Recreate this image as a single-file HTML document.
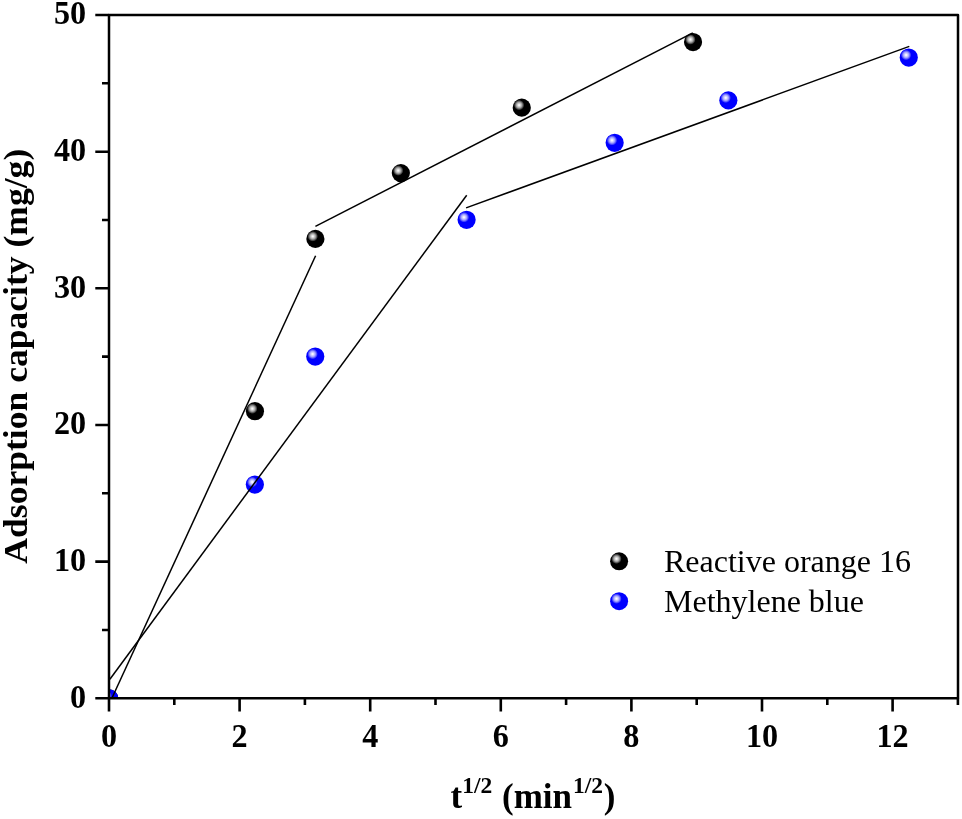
<!DOCTYPE html>
<html><head><meta charset="utf-8">
<style>
html,body{margin:0;padding:0;background:#fff;}
body{width:962px;height:819px;overflow:hidden;}
svg{display:block;will-change:transform;}
text{font-family:"Liberation Serif",serif;}
.b{font-weight:bold;}
</style></head><body>
<svg width="962" height="819" viewBox="0 0 962 819">
<defs>
<radialGradient id="gk" cx="0.355" cy="0.36" r="0.285" fx="0.355" fy="0.36">
<stop offset="0" stop-color="#ffffff"/>
<stop offset="0.12" stop-color="#f4f4f4"/>
<stop offset="0.55" stop-color="#a0a0a0"/>
<stop offset="0.85" stop-color="#3c3c3c"/>
<stop offset="1" stop-color="#000"/>
</radialGradient>
<radialGradient id="gb" cx="0.355" cy="0.36" r="0.285" fx="0.355" fy="0.36">
<stop offset="0" stop-color="#ffffff"/>
<stop offset="0.12" stop-color="#f4f4ff"/>
<stop offset="0.55" stop-color="#a0a0ff"/>
<stop offset="0.85" stop-color="#3c3cff"/>
<stop offset="1" stop-color="#0000ff"/>
</radialGradient>
<clipPath id="plot"><rect x="109" y="15" width="849" height="683.3"/></clipPath>
</defs>

<!-- data markers (clipped to plot) -->
<g clip-path="url(#plot)">
<circle cx="109.3" cy="698.3" r="9" fill="url(#gk)"/>
<circle cx="109.3" cy="698.3" r="9" fill="url(#gb)"/>
</g>
<g>
<circle cx="254.95" cy="411.2" r="9.1" fill="url(#gk)"/>
<circle cx="315.4" cy="238.9" r="9.1" fill="url(#gk)"/>
<circle cx="400.85" cy="173.1" r="9.1" fill="url(#gk)"/>
<circle cx="521.75" cy="107.65" r="9.1" fill="url(#gk)"/>
<circle cx="693.05" cy="42.05" r="9.1" fill="url(#gk)"/>

<circle cx="254.85" cy="484.55" r="9.1" fill="url(#gb)"/>
<circle cx="315.25" cy="356.55" r="9.1" fill="url(#gb)"/>
<circle cx="466.6" cy="219.8" r="9.1" fill="url(#gb)"/>
<circle cx="614.65" cy="142.8" r="9.1" fill="url(#gb)"/>
<circle cx="728.35" cy="100.35" r="9.1" fill="url(#gb)"/>
<circle cx="908.75" cy="57.55" r="9.1" fill="url(#gb)"/>
</g>

<!-- fit lines -->
<g stroke="#000" stroke-width="1.5" fill="none" stroke-linecap="butt">
<line x1="112" y1="698" x2="315.6" y2="255.7"/>
<line x1="315.4" y1="226.4" x2="692.8" y2="32.9"/>
<line x1="109.9" y1="679.2" x2="466.7" y2="195.2"/>
<line x1="466.1" y1="207.9" x2="909.3" y2="46.4"/>
</g>

<!-- axes frame -->
<g stroke="#000" stroke-width="2.5" fill="none" stroke-linecap="square" stroke-linejoin="round">
<path d="M109 15 H958 V698.3 H109 Z"/>
</g>
<!-- ticks -->
<g stroke="#000" stroke-width="2.6" fill="none">
<path d="M109 698.3 V711.6 M239.6 698.3 V711.6 M370.2 698.3 V711.6 M500.8 698.3 V711.6 M631.4 698.3 V711.6 M762 698.3 V711.6 M892.6 698.3 V711.6"/>
<path d="M174.3 698.3 V705 M304.9 698.3 V705 M435.5 698.3 V705 M566.1 698.3 V705 M696.7 698.3 V705 M827.3 698.3 V705 M957.9 698.3 V705"/>
<path d="M109 698.3 H95.3 M109 561.6 H95.3 M109 425 H95.3 M109 288.3 H95.3 M109 151.7 H95.3 M109 15 H95.3"/>
<path d="M109 630 H102 M109 493.3 H102 M109 356.6 H102 M109 220 H102 M109 83.3 H102"/>
</g>

<!-- tick labels -->
<g class="b" font-size="33" fill="#000">
<text text-anchor="middle" transform="translate(109 746.6) scale(0.975 1)">0</text>
<text text-anchor="middle" transform="translate(239.6 746.6) scale(0.975 1)">2</text>
<text text-anchor="middle" transform="translate(370.2 746.6) scale(0.975 1)">4</text>
<text text-anchor="middle" transform="translate(500.8 746.6) scale(0.975 1)">6</text>
<text text-anchor="middle" transform="translate(631.4 746.6) scale(0.975 1)">8</text>
<text text-anchor="middle" transform="translate(762 746.6) scale(0.975 1)">10</text>
<text text-anchor="middle" transform="translate(892.6 746.6) scale(0.975 1)">12</text>
<text text-anchor="end" transform="translate(86.2 707.7) scale(0.975 1)">0</text>
<text text-anchor="end" transform="translate(86.2 571.05) scale(0.975 1)">10</text>
<text text-anchor="end" transform="translate(86.2 434.4) scale(0.975 1)">20</text>
<text text-anchor="end" transform="translate(86.2 297.7) scale(0.975 1)">30</text>
<text text-anchor="end" transform="translate(86.2 161.1) scale(0.975 1)">40</text>
<text text-anchor="end" transform="translate(86.2 24.4) scale(0.975 1)">50</text>
</g>

<!-- axis titles -->
<text class="b" font-size="34.3" text-anchor="middle" transform="translate(26.7 356.2) rotate(-90) scale(1.037 1)">Adsorption capacity (mg/g)</text>
<text class="b" font-size="35" y="808"><tspan x="450.5">t</tspan><tspan x="462.3" y="793" font-size="23.5">1/2</tspan><tspan x="502" y="808">(min</tspan><tspan x="573" y="793" font-size="23.5">1/2</tspan><tspan x="603.7" y="808">)</tspan></text>

<!-- legend -->
<circle cx="619.1" cy="561.3" r="9" fill="url(#gk)"/>
<circle cx="619.1" cy="601.2" r="9" fill="url(#gb)"/>
<text font-size="32" x="664" y="572.4" fill="#000">Reactive orange 16</text>
<text font-size="32" x="664" y="612.3" fill="#000">Methylene blue</text>
</svg>
</body></html>
